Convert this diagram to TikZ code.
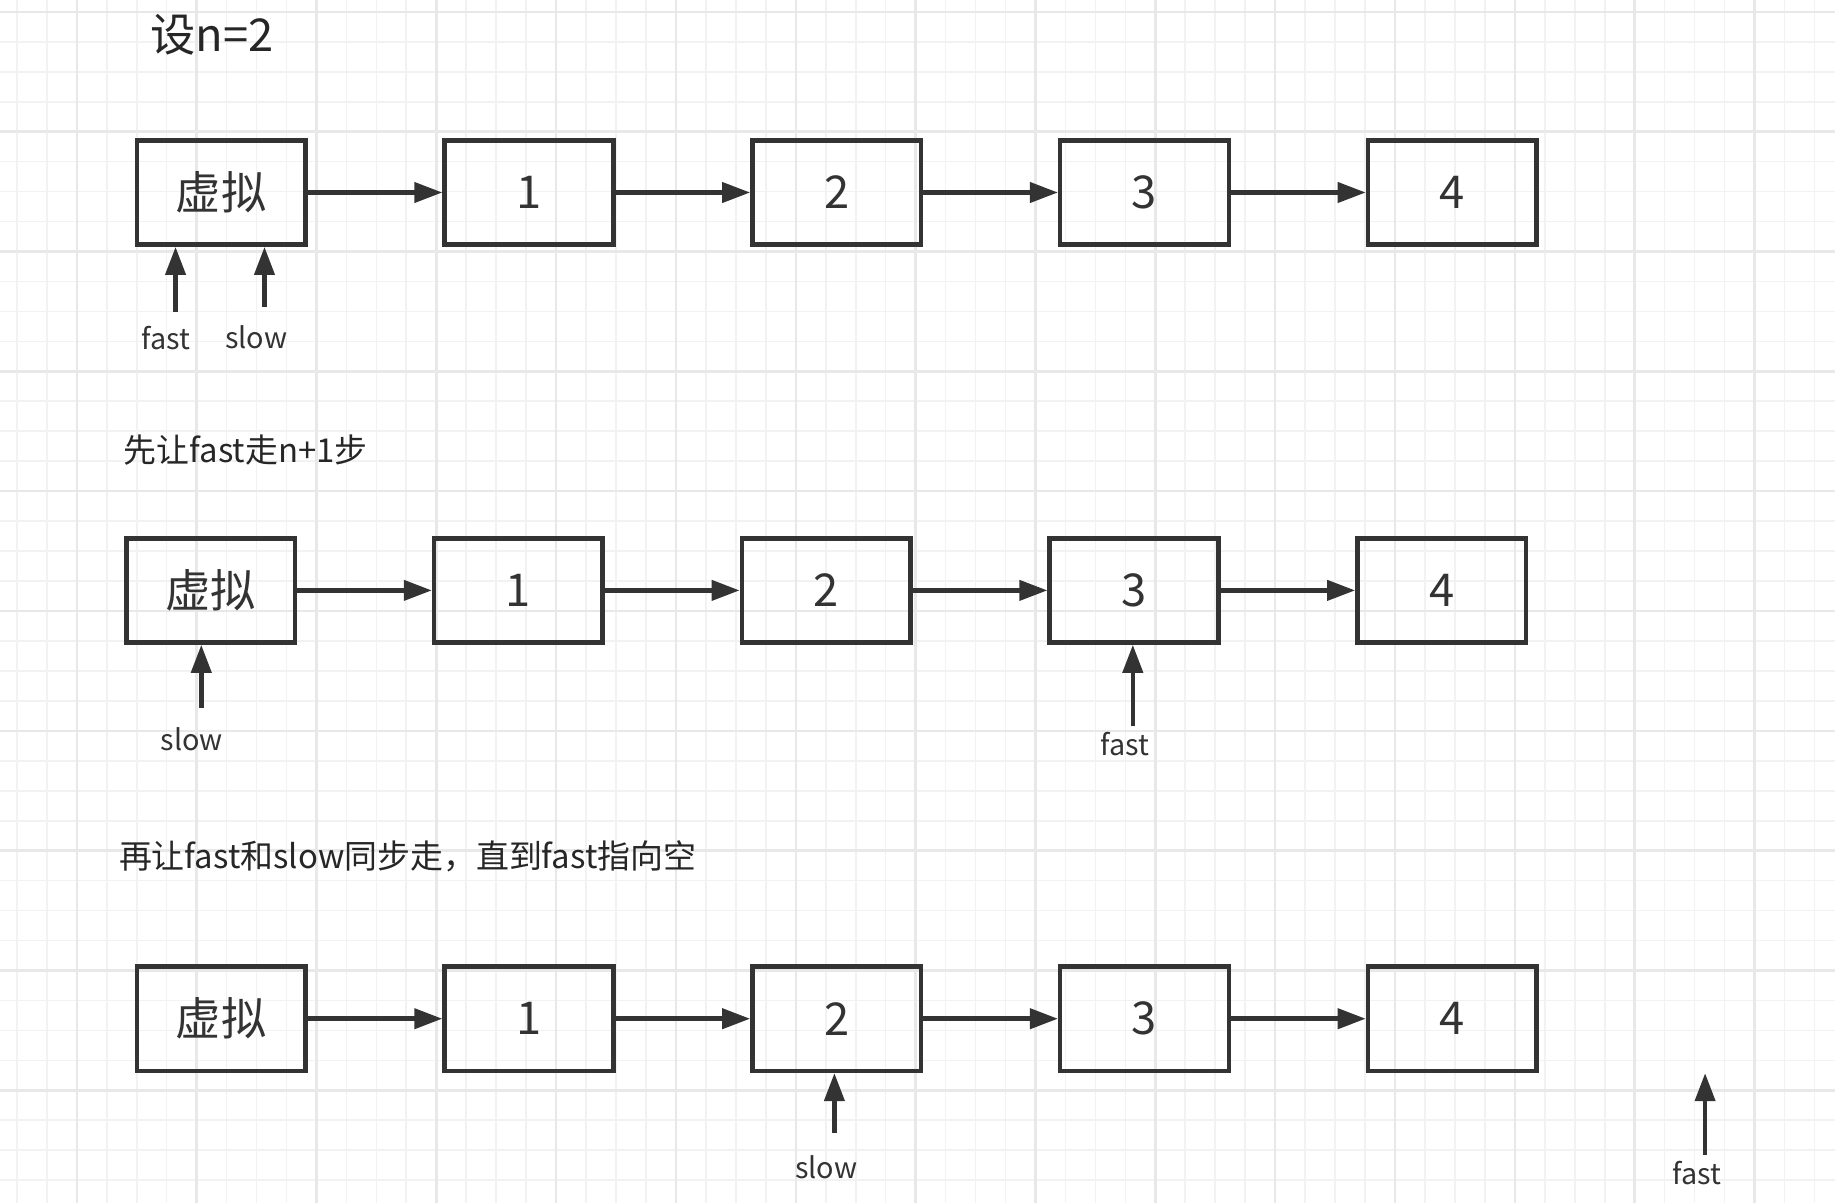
\documentclass[tikz,border=0pt]{standalone}
\usepackage{fontspec}
\setmainfont{Noto Sans CJK SC}
\usetikzlibrary{arrows.meta}
\begin{document}
\begin{tikzpicture}[x=0.01cm,y=-0.01cm,
  box/.style={draw=black!80,line width=1.1pt,minimum width=1.44cm,minimum height=0.89cm,inner sep=0pt,font=\fontsize{11}{12}\selectfont,text=black!80},
  arr/.style={draw=black!80,line width=1.1pt,-{Triangle[length=0.24cm,width=0.17cm]}},
  lbl/.style={font=\fontsize{7}{8}\selectfont,text=black!80,inner sep=0pt},
  txt/.style={font=\fontsize{8}{9}\selectfont,text=black!85,inner sep=0pt,anchor=west}]
\useasboundingbox (0,0) rectangle (1568,1028);
\fill[white] (0,0) rectangle (1568,1028);
\foreach \i in {0,...,62} {
  \pgfmathsetmacro\xx{65.6+25.6*(\i-3)}
  \draw[black!5,line width=0.4pt] (\xx,0) -- (\xx,1028);
}
\foreach \i in {0,...,42} {
  \pgfmathsetmacro\yy{10.1+25.6*(\i)}
  \draw[black!5,line width=0.4pt] (0,\yy) -- (1568,\yy);
}
\foreach \i in {0,...,15} {
  \pgfmathsetmacro\xx{65.6+102.4*(\i)}
  \draw[black!9,line width=0.6pt] (\xx,0) -- (\xx,1028);
}
\foreach \i in {0,...,10} {
  \pgfmathsetmacro\yy{10.1+102.4*(\i)}
  \draw[black!9,line width=0.6pt] (0,\yy) -- (1568,\yy);
}
\node[txt,font=\fontsize{11}{12}\selectfont] (t1) at (128,30) {设n=2};
\node[txt] (t2) at (105,385) {先让fast走n+1步};
\node[txt] (t3) at (101,732) {再让fast和slow同步走，直到fast指向空};
% row 1
\node[box] (a0) at (189,164.5) {虚拟};
\node[box] (a1) at (452,164.5) {1};
\node[box] (a2) at (715,164.5) {2};
\node[box] (a3) at (978,164.5) {3};
\node[box] (a4) at (1241,164.5) {4};
\foreach \p/\q in {a0/a1,a1/a2,a2/a3,a3/a4} \draw[arr] (\p) -- (\q);
\node[lbl] (f1) at (142,289) {fast};
\node[lbl] (s1) at (219,288) {slow};
\coordinate (f1s) at (150,267); \coordinate (s1s) at (226,262);
\draw[arr] (f1s) -- (f1s |- a0.south);
\draw[arr] (s1s) -- (s1s |- a0.south);
% row 2
\node[box] (b0) at (180,504.5) {虚拟};
\node[box] (b1) at (443,504.5) {1};
\node[box] (b2) at (706,504.5) {2};
\node[box] (b3) at (969,504.5) {3};
\node[box] (b4) at (1232,504.5) {4};
\foreach \p/\q in {b0/b1,b1/b2,b2/b3,b3/b4} \draw[arr] (\p) -- (\q);
\node[lbl] (s2) at (164,632) {slow};
\node[lbl] (f2) at (961,636) {fast};
\coordinate (s2s) at (172,605); \coordinate (f2s) at (968,620);
\draw[arr] (s2s) -- (s2s |- b0.south);
\draw[arr] (f2s) -- (f2s |- b3.south);
% row 3
\node[box] (c0) at (189,870.5) {虚拟};
\node[box] (c1) at (452,870.5) {1};
\node[box] (c2) at (715,870.5) {2};
\node[box] (c3) at (978,870.5) {3};
\node[box] (c4) at (1241,870.5) {4};
\foreach \p/\q in {c0/c1,c1/c2,c2/c3,c3/c4} \draw[arr] (\p) -- (\q);
\node[lbl] (s3) at (706,997) {slow};
\node[lbl] (f3) at (1450,1002) {fast};
\coordinate (s3s) at (713,968); \coordinate (f3s) at (1457,987); \coordinate (f3e) at (1457,917);
\draw[arr] (s3s) -- (s3s |- c2.south);
\draw[arr] (f3s) -- (f3e);
\end{tikzpicture}
\end{document}
